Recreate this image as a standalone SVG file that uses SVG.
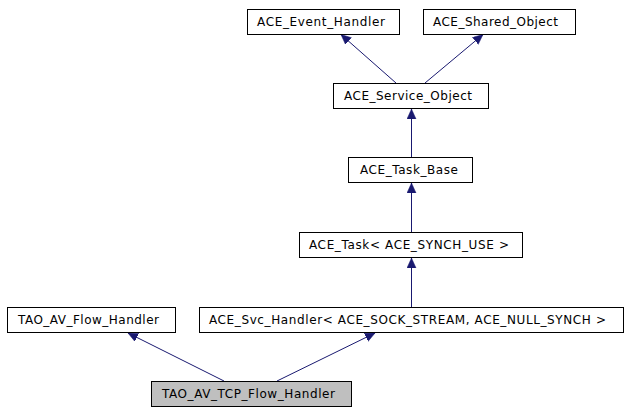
<svg xmlns="http://www.w3.org/2000/svg" width="629" height="413" viewBox="0 0 629 413">
<style>
.box{fill:#ffffff;stroke:#000000;stroke-width:1}
.cur{fill:#bfbfbf;stroke:#000000;stroke-width:1}
.lbl{font-family:"DejaVu Sans","Liberation Sans",sans-serif;font-size:12px;fill:#000000}
.edge{stroke:#191970;stroke-width:1;fill:none;marker-end:url(#arr)}
</style>
<defs>
<marker id="arr" markerUnits="userSpaceOnUse" markerWidth="11" markerHeight="10" refX="10" refY="4.5" orient="auto">
<path d="M0,0 L10,4.5 L0,9 z" fill="#191970" stroke="#191970" stroke-width="0.5"/>
</marker>
</defs>
<rect width="629" height="413" fill="#ffffff"/>
<g id="connectors">
<line class="edge" x1="396" y1="83" x2="341" y2="34.5"/>
<line class="edge" x1="425" y1="83" x2="483" y2="34.5"/>
<line class="edge" x1="411.5" y1="157" x2="411.5" y2="109"/>
<line class="edge" x1="411.5" y1="232" x2="411.5" y2="183"/>
<line class="edge" x1="411.5" y1="307" x2="411.5" y2="258"/>
<line class="edge" x1="224" y1="381" x2="128" y2="333"/>
<line class="edge" x1="277" y1="381" x2="375" y2="333"/>
</g>
<g id="ACE_Event_Handler">
<rect class="box" x="247.5" y="9.5" width="152" height="25"/>
<text class="lbl" x="257" y="26" textLength="128" lengthAdjust="spacing">ACE_Event_Handler</text>
</g>
<g id="ACE_Shared_Object">
<rect class="box" x="423.5" y="9.5" width="152" height="25"/>
<text class="lbl" x="433" y="26" textLength="125" lengthAdjust="spacing">ACE_Shared_Object</text>
</g>
<g id="ACE_Service_Object">
<rect class="box" x="333.5" y="83.5" width="155" height="25"/>
<text class="lbl" x="344" y="100" textLength="128" lengthAdjust="spacing">ACE_Service_Object</text>
</g>
<g id="ACE_Task_Base">
<rect class="box" x="348.5" y="157.5" width="124" height="25"/>
<text class="lbl" x="360" y="174" textLength="98" lengthAdjust="spacing">ACE_Task_Base</text>
</g>
<g id="ACE_Task">
<rect class="box" x="299.5" y="232.5" width="223" height="25"/>
<text class="lbl" x="309" y="249" textLength="200" lengthAdjust="spacing">ACE_Task&lt; ACE_SYNCH_USE &gt;</text>
</g>
<g id="TAO_AV_Flow_Handler">
<rect class="box" x="7.5" y="307.5" width="168" height="25"/>
<text class="lbl" x="18" y="324" textLength="141" lengthAdjust="spacing">TAO_AV_Flow_Handler</text>
</g>
<g id="ACE_Svc_Handler">
<rect class="box" x="199.5" y="307.5" width="424" height="25"/>
<text class="lbl" x="209" y="324" textLength="397" lengthAdjust="spacing">ACE_Svc_Handler&lt; ACE_SOCK_STREAM, ACE_NULL_SYNCH &gt;</text>
</g>
<g id="TAO_AV_TCP_Flow_Handler">
<rect class="cur" x="151.5" y="381.5" width="200" height="25"/>
<text class="lbl" x="162" y="398" textLength="173" lengthAdjust="spacing">TAO_AV_TCP_Flow_Handler</text>
</g>
</svg>
